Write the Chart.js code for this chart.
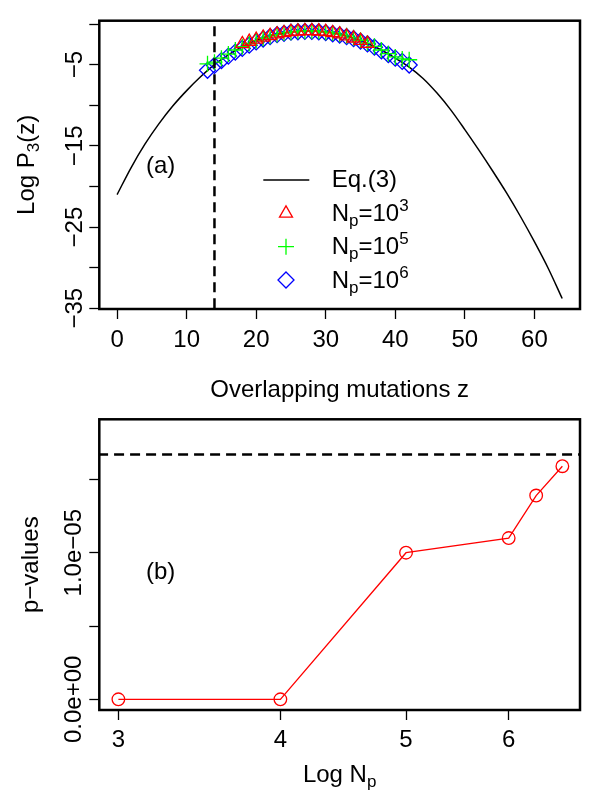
<!DOCTYPE html>
<html>
<head>
<meta charset="utf-8">
<script src="https://cdn.jsdelivr.net/npm/chart.js@4.4.0/dist/chart.umd.min.js"></script>
<style>
  body { margin: 0; background: #fff; }
  canvas { position: absolute; left: 0; }
  #top { top: 0; }
  #bottom { top: 400px; }
</style>
</head>
<body>
<canvas id="top" width="600" height="410"></canvas>
<canvas id="bottom" width="600" height="400"></canvas>
<script>
// ---- panel (a): Eq.(3) curve and simulated points ----
const curveZ = [0, 2, 4, 6, 8, 10, 12, 14, 16, 18, 20, 22, 24, 26, 28, 30, 32,
  34, 36, 38, 40, 42, 44, 46, 48, 50, 52, 54, 56, 58, 60, 62, 64];
const curveLogP = [-21.0, -17.7, -14.8, -12.3, -10.1, -8.2, -6.5, -5.0, -3.8, -2.8,
  -2.0, -1.45, -1.1, -0.9, -0.85, -0.95, -1.25, -1.75, -2.4, -3.2, -4.2, -5.3,
  -6.7, -8.5, -10.6, -13.0, -15.5, -18.1, -20.8, -23.7, -26.8, -30.1, -33.8];

const np3Z = [18, 19, 20, 21, 22, 23, 24, 25, 26, 27, 28, 29, 30, 31, 32, 33, 34, 35, 36];
const np3LogP = [-2.45, -2.15, -1.9, -1.65, -1.45, -1.25, -1.1, -0.95, -0.9, -0.85,
  -0.85, -0.9, -0.95, -1.1, -1.25, -1.5, -1.75, -2.05, -2.4];

const np5Z = [13, 14, 15, 16, 17, 18, 19, 20, 21, 22, 23, 24, 25, 26, 27, 28, 29, 30,
  31, 32, 33, 34, 35, 36, 37, 38, 39, 40, 41, 42];
const np5LogP = [-4.9, -4.7, -4.2, -3.7, -3.2, -2.8, -2.4, -2.05, -1.75, -1.5, -1.3,
  -1.1, -1.0, -0.9, -0.85, -0.85, -0.9, -1.0, -1.1, -1.25, -1.45, -1.7, -2.0,
  -2.35, -2.75, -3.2, -3.65, -4.05, -4.3, -4.4];

const np6Z = np5Z;
const np6LogP = [-5.7, -5.1, -4.5, -3.95, -3.45, -3.0, -2.6, -2.2, -1.85, -1.55, -1.3,
  -1.15, -1.0, -0.95, -0.9, -0.9, -0.95, -1.05, -1.2, -1.35, -1.55, -1.8, -2.1,
  -2.45, -2.85, -3.3, -3.75, -4.2, -4.6, -5.05];

const thresholdZ = 14;
const xTicksA = [0, 10, 20, 30, 40, 50, 60];
const yTicksA = [0, -5, -10, -15, -20, -25, -30, -35];
const yTickLabelsA = ['', '\u22125', '', '\u221215', '', '\u221225', '', '\u221235'];

// ---- panel (b): p-values ----
const logNp = [3, 4, 5, 6, 6.3, 6.6];
const pValues = [0, 0, 1.0e-5, 1.1e-5, 1.39e-5, 1.59e-5];
const pThreshold = 1.67e-5;
const xTicksB = [3, 4, 5, 6];
const yTicksB = [0, 0.5e-5, 1.0e-5, 1.5e-5];
const yTickLabelsB = ['0.0e+00', '', '1.0e\u221205', ''];

const FONT = '"Liberation Sans", Arial, Helvetica, sans-serif';
const font = size => size + 'px ' + FONT;

// text with sub/superscripts: parts = [[text, 'sub'|'sup'|undefined], ...]
function drawRich(ctx, parts, x, y, center) {
  let total = 0;
  const widths = parts.map(p => {
    ctx.font = font(p[1] ? 17 : 24);
    const w = ctx.measureText(p[0]).width;
    total += w;
    return w;
  });
  let cx = center ? x - total / 2 : x;
  ctx.textAlign = 'left';
  ctx.textBaseline = 'alphabetic';
  parts.forEach((p, i) => {
    ctx.font = font(p[1] ? 17 : 24);
    const dy = p[1] === 'sub' ? 5 : p[1] === 'sup' ? -10 : 0;
    ctx.fillText(p[0], cx, y + dy);
    cx += widths[i];
  });
}

function drawMarker(ctx, shape, x, y, color) {
  ctx.save();
  ctx.strokeStyle = color;
  ctx.lineWidth = 1.3;
  ctx.beginPath();
  if (shape === 'triangle') {
    const r = 7.5;
    ctx.moveTo(x, y - r);
    ctx.lineTo(x + r * 0.866, y + r / 2);
    ctx.lineTo(x - r * 0.866, y + r / 2);
    ctx.closePath();
  } else if (shape === 'cross') {
    ctx.moveTo(x - 8, y); ctx.lineTo(x + 8, y);
    ctx.moveTo(x, y - 8); ctx.lineTo(x, y + 8);
  } else if (shape === 'diamond') {
    ctx.moveTo(x, y - 8); ctx.lineTo(x + 8, y);
    ctx.lineTo(x, y + 8); ctx.lineTo(x - 8, y);
    ctx.closePath();
  }
  ctx.stroke();
  ctx.restore();
}

// R-like frame, tick labels, titles
function rFrame(cfg) {
  return {
    id: 'rFrame',
    afterDraw(chart) {
      const ctx = chart.ctx;
      const a = chart.chartArea;
      const xs = chart.scales.x, ys = chart.scales.y;
      ctx.save();
      ctx.fillStyle = '#000';
      ctx.strokeStyle = '#000';
      ctx.lineWidth = 2.5;
      ctx.strokeRect(a.left, a.top, a.right - a.left, a.bottom - a.top);

      ctx.font = font(24);
      ctx.textAlign = 'center';
      ctx.textBaseline = 'alphabetic';
      cfg.xTicks.forEach(v => {
        ctx.fillText(String(v), xs.getPixelForValue(v), cfg.xTickBase);
      });
      cfg.yTicks.forEach((v, i) => {
        const lab = cfg.yLabels[i];
        if (!lab) return;
        ctx.save();
        ctx.translate(cfg.yTickBase, ys.getPixelForValue(v));
        ctx.rotate(-Math.PI / 2);
        ctx.fillText(lab, 0, 0);
        ctx.restore();
      });

      drawRich(ctx, cfg.xTitle, (a.left + a.right) / 2, cfg.xTitleBase, true);
      ctx.save();
      ctx.translate(cfg.yTitleBase, (a.top + a.bottom) / 2);
      ctx.rotate(-Math.PI / 2);
      drawRich(ctx, cfg.yTitle, 0, 0, true);
      ctx.restore();

      ctx.font = font(24);
      ctx.textAlign = 'left';
      ctx.fillText(cfg.panel[0], cfg.panel[1], cfg.panel[2]);

      if (cfg.legend) cfg.legend(ctx);
      ctx.restore();
    }
  };
}

function tickGrid() {
  return { drawOnChartArea: false, drawTicks: true, tickLength: 10, tickWidth: 1.3, tickColor: '#000' };
}

// ---- chart (a) ----
new Chart(document.getElementById('top'), {
  type: 'scatter',
  data: {
    datasets: [
      {
        type: 'line',
        data: [{ x: thresholdZ, y: -100 }, { x: thresholdZ, y: 100 }],
        borderColor: '#000', borderWidth: 2.5, borderDash: [10, 6], pointRadius: 0
      },
      {
        data: np3Z.map((z, i) => ({ x: z, y: np3LogP[i] })),
        pointStyle: 'triangle', pointRadius: 7.5, borderWidth: 1.3,
        borderColor: '#FF0000', backgroundColor: 'rgba(0,0,0,0)'
      },
      {
        data: np5Z.map((z, i) => ({ x: z, y: np5LogP[i] })),
        pointStyle: 'cross', pointRadius: 8, borderWidth: 1.3,
        borderColor: '#00FF00', backgroundColor: 'rgba(0,0,0,0)'
      },
      {
        data: np6Z.map((z, i) => ({ x: z, y: np6LogP[i] })),
        pointStyle: 'rectRot', pointRadius: 8, borderWidth: 1.3,
        borderColor: '#0000FF', backgroundColor: 'rgba(0,0,0,0)'
      },
      {
        type: 'line',
        data: curveZ.map((z, i) => ({ x: z, y: curveLogP[i] })),
        borderColor: '#000', borderWidth: 1.5, pointRadius: 0,
        cubicInterpolationMode: 'monotone', fill: false
      }
    ]
  },
  options: {
    responsive: false,
    animation: false,
    events: [],
    layout: { padding: { left: 0, right: 20, top: 20.7, bottom: 0 } },
    plugins: { legend: { display: false }, tooltip: { enabled: false } },
    scales: {
      x: {
        type: 'linear', min: -2.56, max: 66.56,
        afterBuildTicks: s => { s.ticks = xTicksA.map(v => ({ value: v })); },
        afterFit: s => { s.height = 101; },
        ticks: { display: false }, grid: tickGrid(), border: { display: false }
      },
      y: {
        type: 'linear', min: -35.09, max: 0.41,
        afterBuildTicks: s => { s.ticks = yTicksA.map(v => ({ value: v })); },
        afterFit: s => { s.width = 99.3; },
        ticks: { display: false }, grid: tickGrid(), border: { display: false }
      }
    }
  },
  plugins: [rFrame({
    xTicks: xTicksA, xTickBase: 347,
    yTicks: yTicksA, yLabels: yTickLabelsA, yTickBase: 82,
    xTitle: [['Overlapping mutations z']], xTitleBase: 397,
    yTitle: [['Log P'], ['3', 'sub'], ['(z)']], yTitleBase: 34,
    panel: ['(a)', 146, 173],
    legend: ctx => {
      ctx.save();
      ctx.strokeStyle = '#000';
      ctx.lineWidth = 1.5;
      ctx.beginPath();
      ctx.moveTo(263.3, 180); ctx.lineTo(309.3, 180);
      ctx.stroke();
      ctx.restore();
      drawMarker(ctx, 'triangle', 286, 213.3, '#FF0000');
      drawMarker(ctx, 'cross', 286, 246.7, '#00FF00');
      drawMarker(ctx, 'diamond', 286, 280, '#0000FF');
      ctx.fillStyle = '#000';
      drawRich(ctx, [['Eq.(3)']], 331.7, 187, false);
      drawRich(ctx, [['N'], ['p', 'sub'], ['=10'], ['3', 'sup']], 331.7, 220.5, false);
      drawRich(ctx, [['N'], ['p', 'sub'], ['=10'], ['5', 'sup']], 331.7, 254, false);
      drawRich(ctx, [['N'], ['p', 'sub'], ['=10'], ['6', 'sup']], 331.7, 287.5, false);
    }
  })]
});

// ---- chart (b) ----
new Chart(document.getElementById('bottom'), {
  type: 'scatter',
  data: {
    datasets: [
      {
        type: 'line',
        data: [{ x: 2, y: pThreshold }, { x: 8, y: pThreshold }],
        borderColor: '#000', borderWidth: 2.5, borderDash: [10, 6], pointRadius: 0
      },
      {
        type: 'line',
        data: logNp.map((x, i) => ({ x: x, y: pValues[i] })),
        borderColor: '#FF0000', borderWidth: 1.3,
        pointStyle: 'circle', pointRadius: 6.3, pointBorderWidth: 1.3,
        pointBorderColor: '#FF0000', pointBackgroundColor: 'rgba(0,0,0,0)', fill: false
      }
    ]
  },
  options: {
    responsive: false,
    animation: false,
    events: [],
    layout: { padding: { left: 0, right: 20, top: 19.3, bottom: 0 } },
    plugins: { legend: { display: false }, tooltip: { enabled: false } },
    scales: {
      x: {
        type: 'logarithmic', min: 2.907, max: 6.81,
        afterBuildTicks: s => { s.ticks = xTicksB.map(v => ({ value: v })); },
        afterFit: s => { s.height = 90; },
        ticks: { display: false }, grid: tickGrid(), border: { display: false }
      },
      y: {
        type: 'linear', min: -0.073e-5, max: 1.91e-5,
        afterBuildTicks: s => { s.ticks = yTicksB.map(v => ({ value: v })); },
        afterFit: s => { s.width = 99.3; },
        ticks: { display: false }, grid: tickGrid(), border: { display: false }
      }
    }
  },
  plugins: [rFrame({
    xTicks: xTicksB, xTickBase: 346.7,
    yTicks: yTicksB, yLabels: yTickLabelsB, yTickBase: 81,
    xTitle: [['Log N'], ['p', 'sub']], xTitleBase: 381.7,
    yTitle: [['p\u2212values']], yTitleBase: 38,
    panel: ['(b)', 146, 179]
  })]
});
</script>
</body>
</html>
